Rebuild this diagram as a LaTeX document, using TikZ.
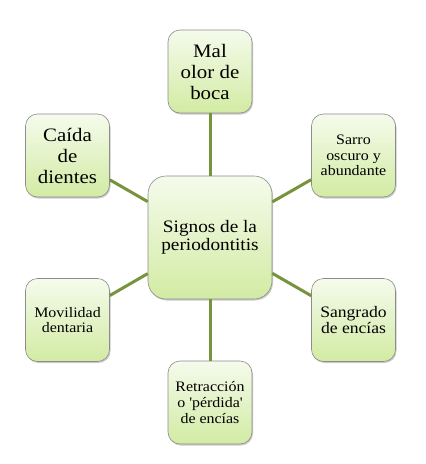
\documentclass[tikz,border=0pt]{standalone}
\usepackage{fontspec}
\setmainfont{Liberation Serif}[FakeStretch=1.1]
\usetikzlibrary{shadows}
\definecolor{gtop}{HTML}{F5FBEC}
\definecolor{gbot}{HTML}{D2EBA3}
\definecolor{linkc}{HTML}{77933C}
\definecolor{edgec}{HTML}{8C8C8C}
\tikzset{
  box/.style={draw=edgec, line width=0.6pt, rounded corners=12pt,
    top color=gtop, bottom color=gbot, minimum width=84pt, minimum height=83pt,
    inner sep=0pt, align=center, text=black,
    drop shadow={shadow xshift=1pt, shadow yshift=-1.5pt, opacity=0.35, fill=black!60}},
  hub/.style={box, rounded corners=18pt, minimum width=124pt, minimum height=123pt},
  link/.style={draw=linkc, line width=3pt}
}
\begin{document}
\begin{tikzpicture}[x=1pt,y=-1pt]
\useasboundingbox (0,0) rectangle (426,464);
\node[hub, font=\fontsize{17.5}{17.5}\selectfont] (c) at (210,237.5) {Signos de la\\periodontitis};
\node[box, font=\fontsize{19}{21}\selectfont] (t) at (210,71.5) {Mal\\olor de\\boca};
\node[box, font=\fontsize{19}{21}\selectfont] (lt) at (67.5,155.5) {Caída\\de\\dientes};
\node[box, font=\fontsize{14.5}{15.5}\selectfont] (rt) at (353.5,155.5) {\raisebox{-4pt}{\parbox{82pt}{\centering Sarro\\oscuro y\\abundante}}};
\node[box, font=\fontsize{14.5}{15.5}\selectfont] (lb) at (67.5,320) {Movilidad\\dentaria};
\node[box, font=\fontsize{16}{15.5}\selectfont] (rb) at (353.5,320) {Sangrado\\de encías};
\node[box, font=\fontsize{14.5}{16}\selectfont] (b) at (210,402.5) {Retracción\\o \textquotesingle pérdida\textquotesingle\\de encías};
\draw[link] (c) -- (t);
\draw[link] (c) -- (lt);
\draw[link] (c) -- (rt);
\draw[link] (c) -- (lb);
\draw[link] (c) -- (rb);
\draw[link] (c) -- (b);
\end{tikzpicture}
\end{document}
